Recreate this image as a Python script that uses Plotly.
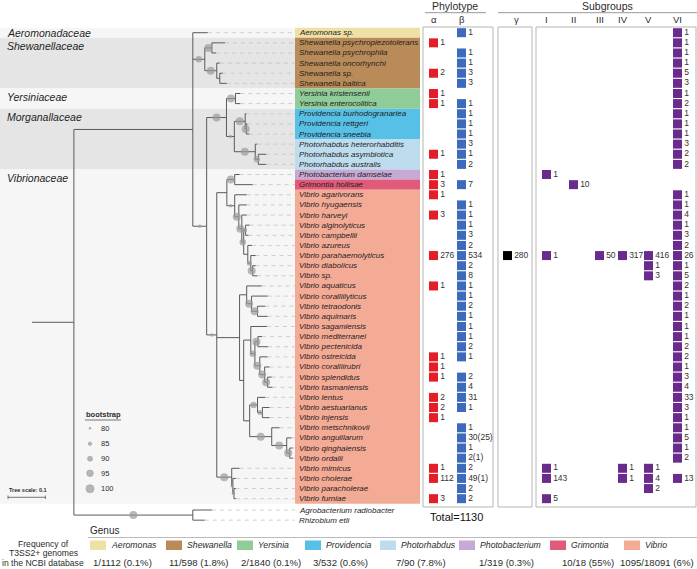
import plotly.graph_objects as go

# ---------------- data ----------------
species = [
    "Aeromonas sp.",
    "Shewanella psychropiezotolerans", "Shewanella psychrophila", "Shewanella oncorhynchi",
    "Shewanella sp.", "Shewanella baltica",
    "Yersinia kristensenii", "Yersinia enterocolitica",
    "Providencia burhodogranariea", "Providencia rettgeri", "Providencia sneebia",
    "Photorhabdus heterorhabditis", "Photorhabdus asymbiotica", "Photorhabdus australis",
    "Photobacterium damselae", "Grimontia hollisae",
    "Vibrio agarivorans", "Vibrio hyugaensis", "Vibrio harveyi", "Vibrio alginolyticus",
    "Vibrio campbellii", "Vibrio azureus", "Vibrio parahaemolyticus", "Vibrio diabolicus",
    "Vibrio sp.",
    "Vibrio aquaticus", "Vibrio coralliilyticus", "Vibrio tetraodonis", "Vibrio aquimaris",
    "Vibrio sagamiensis", "Vibrio mediterranei", "Vibrio pectenicida", "Vibrio ostreicida",
    "Vibrio coralliirubri", "Vibrio splendidus", "Vibrio tasmaniensis", "Vibrio lentus",
    "Vibrio aestuarianus", "Vibrio injensis", "Vibrio metschnikovii", "Vibrio anguillarum",
    "Vibrio qinghaiensis", "Vibrio ordalii",
    "Vibrio mimicus", "Vibrio cholerae", "Vibrio paracholerae", "Vibrio furniae",
    "Agrobacterium radiobacter", "Rhizobium etli",
]
outgroup = ["Agrobacterium radiobacter", "Rhizobium etli"]

_ = None
alpha = [_, 1, _, _, 2, _, 1, 1, _, _, _, _, 1, _, 1, 3,
         1, _, 3, _, _, _, 276, _, _,
         1, _, _, _, _, _, _, 1, 1, 1, _, 2, 2, 1, _, _, _, _,
         1, 112, _, 3]
beta = ["1", _, "1", "1", "3", "3", _, "1", "1", "1", "1", "3", "1", "2", _, "7",
        _, "1", "1", "1", "3", "2", "534", "2", "8",
        "1", "1", "2", "1", "1", "1", "2", "1", _, "2", "4", "31", "1", _, "1", "30(25)", "1", "2(1)",
        "2", "49(1)", "2", "2"]
gamma = {"Vibrio parahaemolyticus": 280}
sub_I = {"Photobacterium damselae": 1, "Vibrio parahaemolyticus": 1, "Vibrio mimicus": 1,
         "Vibrio cholerae": 143, "Vibrio furniae": 5}
sub_II = {"Grimontia hollisae": 10}
sub_III = {"Vibrio parahaemolyticus": 50}
sub_IV = {"Vibrio parahaemolyticus": 317, "Vibrio mimicus": 1, "Vibrio cholerae": 1}
sub_V = {"Vibrio parahaemolyticus": 416, "Vibrio diabolicus": 1, "Vibrio sp.": 3,
         "Vibrio mimicus": 1, "Vibrio cholerae": 4, "Vibrio paracholerae": 2}
sub_VI = [1, 1, 1, 1, 5, 3, 1, 2, 1, 1, 1, 3, 2, 2, _, _,
          1, 1, 4, 1, 3, 2, 26, 1, 5,
          2, 1, 2, 1, 1, 1, 2, 2, 1, 3, 4, 33, 3, 1, 1, 5, 1, 2,
          _, 13, _, _]
total_label = "Total=1130"

family_of_genus = {"Aeromonas": "Aeromonadaceae", "Shewanella": "Shewanellaceae",
                   "Yersinia": "Yersiniaceae", "Providencia": "Morganallaceae",
                   "Photorhabdus": "Morganallaceae", "Photobacterium": "Vibrionaceae",
                   "Grimontia": "Vibrionaceae", "Vibrio": "Vibrionaceae"}
genera = ["Aeromonas", "Shewanella", "Yersinia", "Providencia", "Photorhabdus",
          "Photobacterium", "Grimontia", "Vibrio"]
genus_colors = ["#efe0a6", "#b98b59", "#90cc98", "#56c0e7", "#bddcee", "#c6a9d5", "#e15a79", "#f4ab95"]
genus_freq = ["1/1112 (0.1%)", "11/598 (1.8%)", "2/1840 (0.1%)", "3/532 (0.6%)", "7/90 (7.8%)",
              "1/319 (0.3%)", "10/18 (55%)", "1095/18091 (6%)"]

bootstrap_levels = [80, 85, 90, 95, 100]

newick = """
((Aeromonas_sp.:0.040,
  ((Shewanella_psychropiezotolerans:0.035,Shewanella_psychrophila:0.011)100:0.019,
   (Shewanella_oncorhynchi:0.008,(Shewanella_sp.:0.008,Shewanella_baltica:0.019):0.008)100:0.032)95:0.032,
  (((Yersinia_kristensenii:0.013,Yersinia_enterocolitica:0.013)100:0.024,
    ((Providencia_burhodogranariea:0.003,(Providencia_rettgeri:0.003,Providencia_sneebia:0.008)100:0.003)100:0.029,
     (Photorhabdus_heterorhabditis:0.005,(Photorhabdus_asymbiotica:0.021,Photorhabdus_australis:0.021)95:0.008)100:0.056)85:0.021)100:0.053,
   (((Photobacterium_damselae:0.013,Grimontia_hollisae:0.048)100:0.021,
     (Vibrio_agarivorans:0.032,
      (Vibrio_hyugaensis:0.021,
       (Vibrio_harveyi:0.013,
        ((Vibrio_alginolyticus:0.011,Vibrio_campbellii:0.008)90:0.005,
         (Vibrio_azureus:0.011,(Vibrio_parahaemolyticus:0.013,(Vibrio_diabolicus:0.008,Vibrio_sp.:0.013)100:0.005)90:0.008):0.011)95:0.005)100:0.008)100:0.011)85:0.021):0.027,
    ((Vibrio_aquaticus:0.040,(Vibrio_coralliilyticus:0.043,(Vibrio_tetraodonis:0.021,Vibrio_aquimaris:0.027)100:0.016)100:0.013):0.019,
     ((Vibrio_sagamiensis:0.043,
       ((Vibrio_mediterranei:0.011,Vibrio_pectenicida:0.027)100:0.008,
        (Vibrio_ostreicida:0.021,(Vibrio_coralliirubri:0.013,(Vibrio_splendidus:0.011,Vibrio_tasmaniensis:0.013)100:0.008)100:0.013)100:0.013)95:0.011):0.019,
      ((Vibrio_lentus:0.021,(Vibrio_aestuarianus:0.019,Vibrio_injensis:0.019)90:0.013)95:0.021,
       (Vibrio_metschnikovii:0.021,(Vibrio_anguillarum:0.013,(Vibrio_qinghaiensis:0.008,Vibrio_ordalii:0.008)100:0.008)100:0.040)100:0.059)80:0.016):0.011):0.061,
    (Vibrio_mimicus:0.021,(Vibrio_cholerae:0.008,(Vibrio_paracholerae:0.005,Vibrio_furniae:0.005)85:0.003)85:0.003)100:0.040)85:0.027)85:0.037):0.318,
 (Agrobacterium_radiobacter:0.051,Rhizobium_etli:0.032)100:0.318):0.112;
"""

# ---------------- layout constants ----------------
W, H = 697, 569
ROW0_PX, ROW_PX = 32.7, 10.13        # pixel of first row and row pitch
TREE_X0_PX, PX_PER_UNIT = 32, 374    # tree origin and px per substitution/site
LABEL_X0, LABEL_X1 = 295, 420
FONT = "Liberation Sans, Arial, sans-serif"
TXT = "#2b2b2b"


def parse_newick(s):
    s = "".join(s.split())
    pos = 0

    def node():
        nonlocal pos
        n = {"children": [], "name": "", "len": 0.0, "bs": None}
        if s[pos] == "(":
            pos += 1
            while True:
                n["children"].append(node())
                if s[pos] == ",":
                    pos += 1
                    continue
                if s[pos] == ")":
                    pos += 1
                    break
        st = pos
        while pos < len(s) and s[pos] not in ":,();":
            pos += 1
        lab = s[st:pos]
        if n["children"]:
            if lab:
                n["bs"] = float(lab)
        else:
            n["name"] = lab.replace("_", " ")
        if pos < len(s) and s[pos] == ":":
            pos += 1
            st = pos
            while s[pos] not in ",();":
                pos += 1
            n["len"] = float(s[st:pos])
        return n

    return node()


row_of = {}
for i, sp in enumerate(species):
    row_of[sp] = i + (0.12 if sp in outgroup else 0.0)

tree = parse_newick(newick)


def lay(n, x0):
    n["x"] = x0 + n["len"]
    if not n["children"]:
        n["y"] = row_of[n["name"]]
    else:
        for c in n["children"]:
            lay(c, n["x"])
        n["y"] = (n["children"][0]["y"] + n["children"][-1]["y"]) / 2


lay(tree, 0.0)

lx, ly = [0.0, tree["x"], None], [tree["y"], tree["y"], None]
dx, dy = [], []
bx, by, bs = [], [], []
tip_end = (LABEL_X0 - TREE_X0_PX) / PX_PER_UNIT


def walk(n):
    if n["children"]:
        lx.extend([n["x"], n["x"], None])
        ly.extend([n["children"][0]["y"], n["children"][-1]["y"], None])
        for c in n["children"]:
            lx.extend([n["x"], c["x"], None])
            ly.extend([c["y"], c["y"], None])
            if c["bs"] is not None and c["bs"] >= 80:
                bx.append((n["x"] + c["x"]) / 2)
                by.append(c["y"])
                bs.append(c["bs"])
            walk(c)
    else:
        dx.extend([n["x"], tip_end, None])
        dy.extend([n["y"], n["y"], None])


walk(tree)


def bsize(v):
    return 2 + (v - 80) * 0.3


fig = go.Figure()
shapes, ann = [], []

# family bands
fam_rows = []
for i, sp in enumerate(species):
    if sp in outgroup:
        continue
    f = family_of_genus[sp.split()[0]]
    if fam_rows and fam_rows[-1][0] == f:
        fam_rows[-1][2] = i
    else:
        fam_rows.append([f, i, i])
for k, (f, a, b) in enumerate(fam_rows):
    shapes.append(dict(type="rect", xref="x2", yref="y", x0=0, x1=LABEL_X0, y0=a - 0.5, y1=b + 0.5,
                       fillcolor="#e5e5e5" if k % 2 == 1 else "#f6f6f6", line=dict(width=0), layer="below"))
    ann.append(dict(x=5, y=a + (0.3 if b > a else 0), xref="x2", yref="y", text="<i>%s</i>" % f,
                    showarrow=False, xanchor="left", yanchor="middle",
                    font=dict(size=10.5, color="#1e1e1e", family=FONT)))

# genus label boxes
runs = []
for i, sp in enumerate(species):
    if sp in outgroup:
        continue
    g = sp.split()[0]
    if runs and runs[-1][0] == g:
        runs[-1][2] = i
    else:
        runs.append([g, i, i])
for g, a, b in runs:
    shapes.append(dict(type="rect", xref="x2", yref="y", x0=LABEL_X0, x1=LABEL_X1, y0=a - 0.5, y1=b + 0.5,
                       fillcolor=genus_colors[genera.index(g)], line=dict(width=0), layer="below"))

# panel boxes
for x0, x1 in [(423, 493), (498, 532), (536, 696)]:
    shapes.append(dict(type="rect", xref="x2", yref="y2", x0=x0, x1=x1, y0=27, y1=507,
                       fillcolor="white", line=dict(color="#b5b5b5", width=1), layer="below"))

# tree
fig.add_trace(go.Scatter(x=dx, y=dy, mode="lines", line=dict(color="#c4c4c4", width=0.8, dash="4px,4px"),
                         hoverinfo="skip", showlegend=False))
fig.add_trace(go.Scatter(x=lx, y=ly, mode="lines", line=dict(color="#5a5a5a", width=1),
                         hoverinfo="skip", showlegend=False))
fig.add_trace(go.Scatter(x=bx, y=by, mode="markers",
                         marker=dict(size=[bsize(v) for v in bs], color="#9b9b9b", line=dict(width=0)),
                         hoverinfo="skip", showlegend=False))

# species labels
for i, sp in enumerate(species):
    ann.append(dict(x=297, y=row_of[sp], xref="x2", yref="y", text="<i>%s</i>" % sp, showarrow=False,
                    xanchor="left", yanchor="middle", font=dict(size=8, color="#1e1e1e", family=FONT)))


# square columns
def col_trace(xpx, values, color):
    ys, ts = [], []
    if isinstance(values, dict):
        for sp, v in values.items():
            ys.append(row_of[sp]); ts.append(str(v))
    else:
        for i, v in enumerate(values):
            if v is not None:
                ys.append(i); ts.append(str(v))
    fig.add_trace(go.Scatter(x=[xpx] * len(ys), y=ys, xaxis="x2", yaxis="y", mode="markers+text",
                             marker=dict(symbol="square", size=9, color=color, line=dict(width=0)),
                             text=ts, textposition="middle right",
                             textfont=dict(size=8.5, color="#333333", family=FONT),
                             hoverinfo="skip", showlegend=False))


RED, BLUE, PURPLE = "#e31e26", "#3c6abd", "#6a2c8c"
col_trace(433.5, alpha, RED)
col_trace(461.5, beta, BLUE)
col_trace(507.5, gamma, "#000000")
col_trace(546.5, sub_I, PURPLE)
col_trace(573.5, sub_II, PURPLE)
col_trace(599.5, sub_III, PURPLE)
col_trace(622.5, sub_IV, PURPLE)
col_trace(648.5, sub_V, PURPLE)
col_trace(677.5, sub_VI, PURPLE)

# headers
ann.append(dict(x=455, y=6, xref="x2", yref="y2", text="Phylotype", showarrow=False,
                font=dict(size=10.5, color=TXT, family=FONT)))
ann.append(dict(x=607, y=6, xref="x2", yref="y2", text="Subgroups", showarrow=False,
                font=dict(size=10.5, color=TXT, family=FONT)))
shapes.append(dict(type="line", xref="x2", yref="y2", x0=425, x1=486, y0=12.7, y1=12.7,
                   line=dict(color="#999", width=1)))
shapes.append(dict(type="line", xref="x2", yref="y2", x0=498, x1=697, y0=12.7, y1=12.7,
                   line=dict(color="#999", width=1)))
for lab, xp in [("α", 434), ("β", 462), ("γ", 516), ("I", 546.5), ("II", 573.5), ("III", 599.5),
                ("IV", 622.5), ("V", 648.5), ("VI", 677.5)]:
    ann.append(dict(x=xp, y=19.5, xref="x2", yref="y2", text=lab, showarrow=False,
                    font=dict(size=9.5, color=TXT, family=FONT)))
ann.append(dict(x=428, y=517, xref="x2", yref="y2", text=total_label, showarrow=False, xanchor="left",
                font=dict(size=11, color="#111", family=FONT)))

# bootstrap legend
leg_y = [428.3, 443.7, 458.7, 473.3, 488.7]
fig.add_trace(go.Scatter(x=[90] * 5, y=leg_y, xaxis="x2", yaxis="y2", mode="markers",
                         marker=dict(size=[bsize(v) for v in bootstrap_levels], color="#9b9b9b",
                                     line=dict(color="#7a7a7a", width=0.6)),
                         hoverinfo="skip", showlegend=False))
for v, yy in zip(bootstrap_levels, leg_y):
    ann.append(dict(x=99, y=yy, xref="x2", yref="y2", text=str(v), showarrow=False, xanchor="left",
                    font=dict(size=7.5, color=TXT, family=FONT)))
ann.append(dict(x=84, y=414, xref="x2", yref="y2", text="<b>bootstrap</b>", showarrow=False,
                xanchor="left", font=dict(size=7.5, color=TXT, family=FONT)))
shapes.append(dict(type="line", xref="x2", yref="y2", x0=85, x1=121, y0=420, y1=420,
                   line=dict(color="#555", width=0.8)))

# tree scale
sx0 = (8 - TREE_X0_PX) / PX_PER_UNIT
fig.add_trace(go.Scatter(x=[sx0, sx0, None, sx0, sx0 + 0.1, None, sx0 + 0.1, sx0 + 0.1],
                         y=[495.5, 499, None, 497.3, 497.3, None, 495.5, 499],
                         xaxis="x", yaxis="y2", mode="lines", line=dict(color="#555", width=0.8),
                         hoverinfo="skip", showlegend=False))
ann.append(dict(x=7, y=490, xref="x2", yref="y2", text="<b>Tree scale: 0.1</b>", showarrow=False,
                xanchor="left", font=dict(size=5.5, color=TXT, family=FONT)))

# genus legend
ann.append(dict(x=88, y=530, xref="x2", yref="y2", text="Genus", showarrow=False, xanchor="left",
                font=dict(size=10, color=TXT, family=FONT)))
shapes.append(dict(type="line", xref="x2", yref="y2", x0=88, x1=697, y0=537.5, y1=537.5,
                   line=dict(color="#bbbbbb", width=1)))
for t, yy in [("Frequency of", 543.5), ("T3SS2+ genomes", 553), ("in the NCBI database", 562.5)]:
    ann.append(dict(x=43, y=yy, xref="x2", yref="y2", text=t, showarrow=False,
                    font=dict(size=8.6, color=TXT, family=FONT)))
sw_left = [90, 166, 237, 305, 380, 459, 550, 624]
cnt_x = [122, 199, 271, 340, 421, 506, 588, 657]
for g, c, f, sl, cx in zip(genera, genus_colors, genus_freq, sw_left, cnt_x):
    shapes.append(dict(type="rect", xref="x2", yref="y2", x0=sl, x1=sl + 16, y0=540.5, y1=550,
                       fillcolor=c, line=dict(width=0)))
    ann.append(dict(x=sl + 18.5, y=545.3, xref="x2", yref="y2", text="<i>%s</i>" % g, showarrow=False,
                    xanchor="left", font=dict(size=8.7, color=TXT, family=FONT)))
    ann.append(dict(x=cx, y=562.3, xref="x2", yref="y2", text=f, showarrow=False,
                    font=dict(size=9.6, color=TXT, family=FONT)))

fig.update_layout(
    width=W, height=H, margin=dict(l=0, r=0, t=0, b=0),
    paper_bgcolor="white", plot_bgcolor="white",
    xaxis=dict(range=[-TREE_X0_PX / PX_PER_UNIT, (W - TREE_X0_PX) / PX_PER_UNIT], visible=False,
               domain=[0, 1], fixedrange=True),
    xaxis2=dict(range=[0, W], visible=False, overlaying="x", anchor="y", fixedrange=True),
    yaxis=dict(range=[(H - ROW0_PX) / ROW_PX, -ROW0_PX / ROW_PX], visible=False, domain=[0, 1],
               fixedrange=True),
    yaxis2=dict(range=[H, 0], visible=False, overlaying="y", anchor="x", fixedrange=True),
    shapes=shapes, annotations=ann, showlegend=False,
    font=dict(family=FONT),
)

fig.write_html("out.html", config={"displayModeBar": False},
               post_script="document.body.style.margin='0';")
